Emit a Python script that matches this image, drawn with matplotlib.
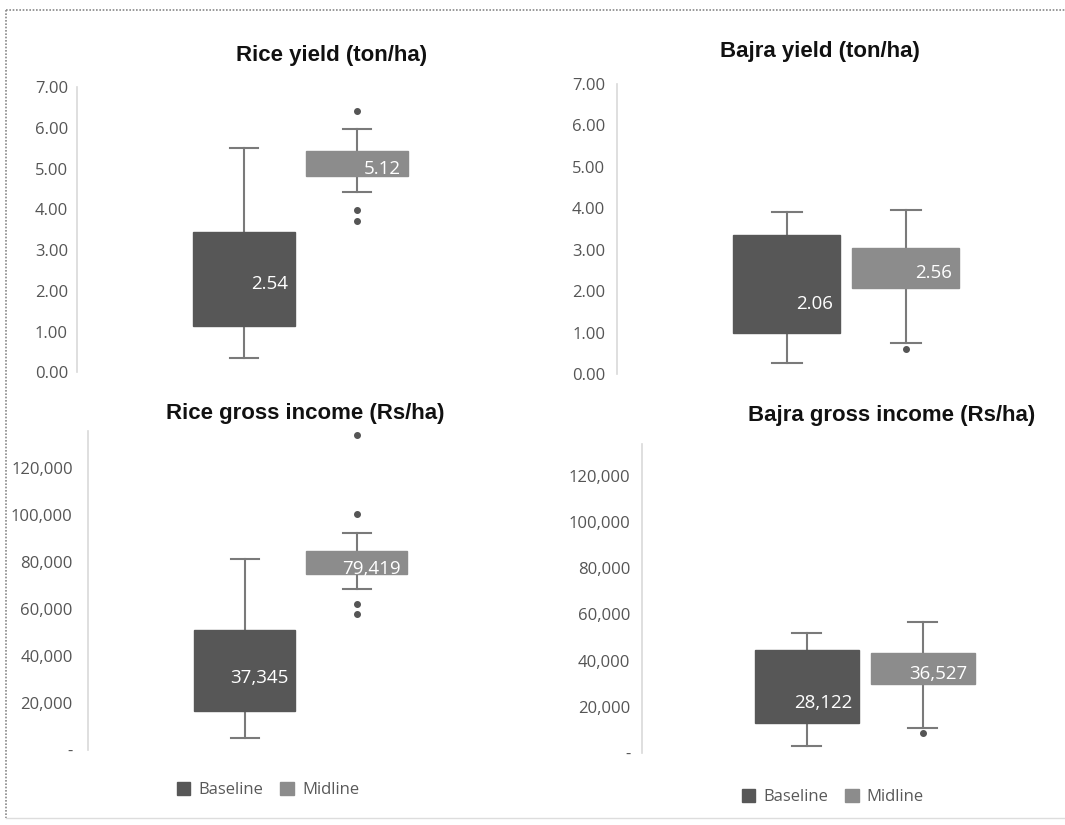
import matplotlib
matplotlib.use('Agg')
import matplotlib.pyplot as plt
from matplotlib.patches import Patch
from matplotlib.ticker import FuncFormatter

# Series and panel data
series = ['Baseline', 'Midline']
box_colors = ['#575757', '#8c8c8c']

# Rice yield (ton/ha)
rice_yield_q1 = [1.14, 4.83]
rice_yield_med = [2.54, 5.12]
rice_yield_q3 = [3.44, 5.44]
rice_yield_lo = [0.36, 4.42]
rice_yield_hi = [5.51, 5.97]
rice_yield_out = [[], [6.43, 3.98, 3.72]]

# Bajra yield (ton/ha)
bajra_yield_q1 = [0.98, 2.08]
bajra_yield_med = [2.06, 2.56]
bajra_yield_q3 = [3.36, 3.03]
bajra_yield_lo = [0.26, 0.76]
bajra_yield_hi = [3.91, 3.97]
bajra_yield_out = [[], [0.60]]

# Rice gross income (Rs/ha)
rice_inc_q1 = [16850, 75020]
rice_inc_med = [37345, 79419]
rice_inc_q3 = [51190, 84940]
rice_inc_lo = [5360, 68770]
rice_inc_hi = [81400, 92600]
rice_inc_out = [[], [134200, 100400, 62300, 58000]]

# Bajra gross income (Rs/ha)
bajra_inc_q1 = [12790, 29700]
bajra_inc_med = [28122, 36527]
bajra_inc_q3 = [44570, 43400]
bajra_inc_lo = [3080, 10620]
bajra_inc_hi = [52070, 56840]
bajra_inc_out = [[], [8700]]

yield_ticks = [0, 1, 2, 3, 4, 5, 6, 7]
income_ticks = [0, 20000, 40000, 60000, 80000, 100000, 120000]

W, H = 1065, 825
fig = plt.figure(figsize=(W / 100, H / 100), dpi=100)
fig.patch.set_facecolor('white')


def px_axes(left, right, top, bottom):
    return fig.add_axes([left / W, 1 - bottom / H, (right - left) / W, (bottom - top) / H])


def draw_panel(ax, q1, med, q3, lo, hi, out, label_fmt, ylim, xlim, ticks, tick_fmt, pad):
    stats = []
    for i in range(len(series)):
        stats.append(dict(q1=q1[i], med=med[i], q3=q3[i], whislo=lo[i], whishi=hi[i],
                          fliers=out[i], label=series[i]))
    bp = ax.bxp(stats, positions=[0, 1], widths=0.9, patch_artist=True,
                showfliers=True, capwidths=0.25,
                whiskerprops=dict(color='#7a7a7a', linewidth=1.5),
                capprops=dict(color='#7a7a7a', linewidth=1.5),
                medianprops=dict(linewidth=0),
                flierprops=dict(marker='o', markersize=4, markerfacecolor='#555555',
                                markeredgecolor='#555555'))
    for patch, c in zip(bp['boxes'], box_colors):
        patch.set_facecolor(c)
        patch.set_edgecolor(c)
        patch.set_zorder(3)
    # whiskers drawn under the boxes so they don't cross them
    for w in bp['whiskers']:
        w.set_zorder(2)
    for i in range(len(series)):
        dy = -11 if i == 0 else -4
        ax.annotate(label_fmt(med[i]), xy=(i + 0.45, med[i]), xytext=(-5, dy),
                    textcoords='offset points', ha='right', va='center',
                    color='white', fontsize=13.5, family='Open Sans', zorder=5)
    ax.set_xlim(*xlim)
    ax.set_ylim(*ylim)
    ax.set_yticks(ticks)
    ax.yaxis.set_major_formatter(FuncFormatter(tick_fmt))
    ax.set_xticks([])
    ax.tick_params(axis='y', length=0, pad=pad, labelsize=12, labelcolor='#555555')
    for lab in ax.get_yticklabels():
        lab.set_family('Open Sans')
    for s in ['top', 'right', 'bottom']:
        ax.spines[s].set_visible(False)
    ax.spines['left'].set_color('#d9d9d9')
    ax.spines['left'].set_linewidth(1.2)
    ax.set_facecolor('none')


def yield_fmt(v, pos=None):
    return f'{v:.2f}'


def income_fmt(v, pos=None):
    return '-' if v == 0 else f'{v:,.0f}'


ax1 = px_axes(77, 524, 87.3, 372.3)
draw_panel(ax1, rice_yield_q1, rice_yield_med, rice_yield_q3, rice_yield_lo, rice_yield_hi,
           rice_yield_out, lambda v: f'{v:.2f}', (0, 7), (-1.478, 2.478), yield_ticks, yield_fmt, 6.5)

ax2 = px_axes(617, 1063, 84, 374)
draw_panel(ax2, bajra_yield_q1, bajra_yield_med, bajra_yield_q3, bajra_yield_lo, bajra_yield_hi,
           bajra_yield_out, lambda v: f'{v:.2f}', (0, 7), (-1.429, 2.322), yield_ticks, yield_fmt, 8.5)

ax3 = px_axes(88, 514, 430.7, 750.3)
draw_panel(ax3, rice_inc_q1, rice_inc_med, rice_inc_q3, rice_inc_lo, rice_inc_hi,
           rice_inc_out, lambda v: f'{v:,.0f}', (0, 136000), (-1.399, 2.402), income_ticks, income_fmt, 11)

ax4 = px_axes(642, 1063, 443.7, 752.8)
draw_panel(ax4, bajra_inc_q1, bajra_inc_med, bajra_inc_q3, bajra_inc_lo, bajra_inc_hi,
           bajra_inc_out, lambda v: f'{v:,.0f}', (0, 134000), (-1.425, 2.213), income_ticks, income_fmt, 8.5)

# Titles
title_kw = dict(ha='center', va='center', fontsize=16, fontweight='bold',
                family='Liberation Sans', color='#111111')
fig.text(332 / W, 1 - 55 / H, 'Rice yield (ton/ha)', **title_kw)
fig.text(820 / W, 1 - 52 / H, 'Bajra yield (ton/ha)', **title_kw)
fig.text(305 / W, 1 - 413 / H, 'Rice gross income (Rs/ha)', **title_kw)
fig.text(892 / W, 1 - 415 / H, 'Bajra gross income (Rs/ha)', **title_kw)

# Legends
handles = [Patch(facecolor=c, edgecolor=c, label=s) for s, c in zip(series, box_colors)]
for cx, cy in [(268, 790), (833, 797)]:
    leg = fig.legend(handles=handles, loc='center', bbox_to_anchor=(cx / W, 1 - cy / H),
                     ncol=2, frameon=False, handlelength=0.8, handleheight=0.8,
                     handletextpad=0.5, columnspacing=1.0,
                     prop=dict(family='Open Sans', size=12))
    for t in leg.get_texts():
        t.set_color('#595959')

# Outer border: dotted top and left, faint bottom
fig.add_artist(plt.Line2D([6 / W, 1], [1 - 10 / H, 1 - 10 / H], color='#888888',
                          linewidth=1.2, linestyle=(0, (1, 1)), transform=fig.transFigure))
fig.add_artist(plt.Line2D([6 / W, 6 / W], [1 - 10 / H, 1 - 818 / H], color='#888888',
                          linewidth=1.2, linestyle=(0, (1, 1)), transform=fig.transFigure))
fig.add_artist(plt.Line2D([6 / W, 1], [1 - 818 / H, 1 - 818 / H], color='#dddddd',
                          linewidth=1.0, transform=fig.transFigure))

fig.savefig('out.png', dpi=100, facecolor='white')
